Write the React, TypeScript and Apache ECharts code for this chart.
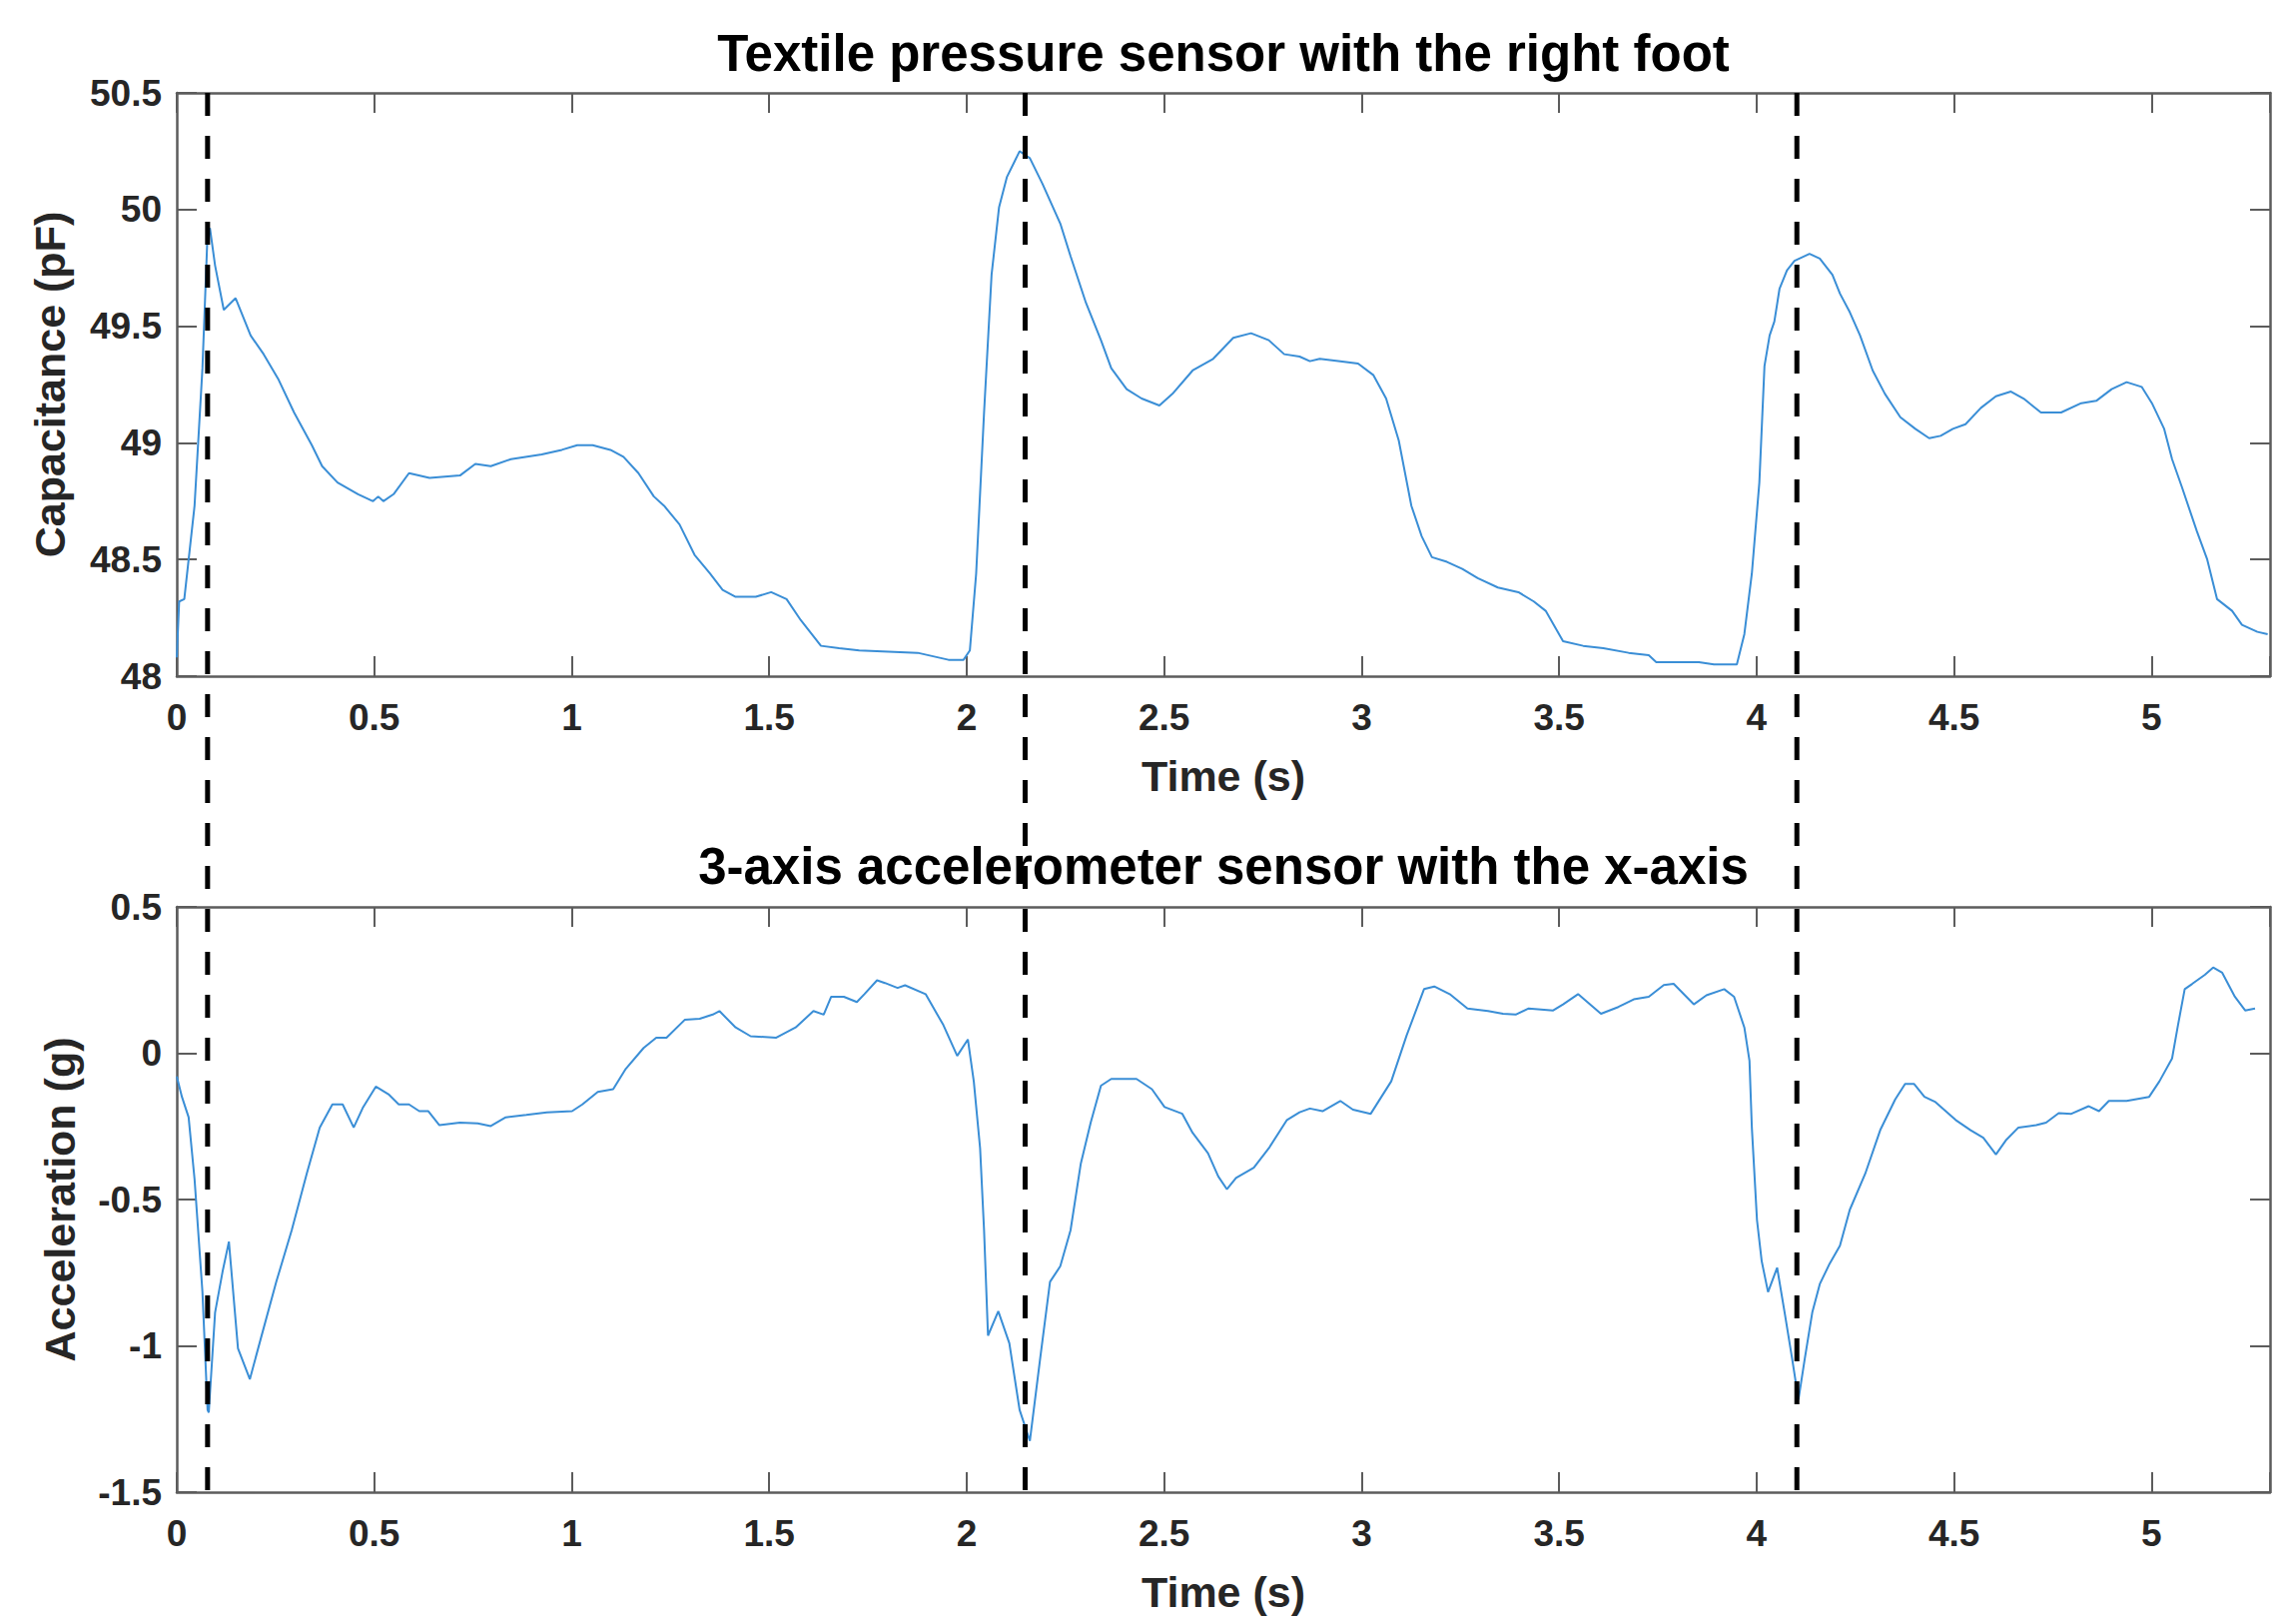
import React, { useEffect, useRef } from 'react';
import * as echarts from 'echarts';

// ---------------- data ----------------
const capTime = [
  0, 0.006, 0.019, 0.045, 0.065, 0.078, 0.084, 0.097, 0.119, 0.149, 0.187, 0.22, 0.258, 0.297, 0.342, 0.368,
  0.407, 0.459, 0.497, 0.51, 0.523, 0.549, 0.588, 0.64, 0.717, 0.756, 0.795, 0.846, 0.924, 0.975, 1.014, 1.053,
  1.098, 1.131, 1.169, 1.208, 1.234, 1.273, 1.311, 1.35, 1.382, 1.415, 1.466, 1.505, 1.544, 1.58, 1.631, 1.677,
  1.728, 1.876, 1.954, 1.992, 2.008, 2.024, 2.044, 2.063, 2.082, 2.102, 2.134, 2.16, 2.192, 2.237, 2.263, 2.302,
  2.34, 2.366, 2.405, 2.443, 2.488, 2.521, 2.572, 2.624, 2.675, 2.72, 2.765, 2.804, 2.843, 2.869, 2.894, 2.946,
  2.991, 3.03, 3.062, 3.094, 3.126, 3.152, 3.178, 3.216, 3.255, 3.294, 3.345, 3.397, 3.436, 3.466, 3.51, 3.561,
  3.612, 3.676, 3.727, 3.746, 3.854, 3.892, 3.95, 3.969, 3.988, 4.007, 4.02, 4.033, 4.045, 4.058, 4.077, 4.096,
  4.134, 4.16, 4.192, 4.211, 4.236, 4.262, 4.294, 4.325, 4.364, 4.402, 4.437, 4.466, 4.497, 4.529, 4.568, 4.606,
  4.644, 4.676, 4.72, 4.771, 4.822, 4.86, 4.899, 4.937, 4.975, 5.001, 5.032, 5.052, 5.077, 5.115, 5.141, 5.166,
  5.204, 5.229, 5.268, 5.294,
];
const capValue = [
  48.08, 48.32, 48.33, 48.73, 49.32, 49.9, 49.92, 49.76, 49.57, 49.62, 49.46, 49.38, 49.27, 49.13, 48.99, 48.9,
  48.83, 48.78, 48.75, 48.77, 48.75, 48.78, 48.87, 48.85, 48.86, 48.91, 48.9, 48.93, 48.95, 48.97, 48.99, 48.99,
  48.97, 48.94, 48.87, 48.77, 48.73, 48.65, 48.52, 48.44, 48.37, 48.34, 48.34, 48.36, 48.33, 48.24, 48.13, 48.12,
  48.11, 48.1, 48.07, 48.07, 48.11, 48.44, 49.13, 49.72, 50.01, 50.14, 50.25, 50.22, 50.11, 49.94, 49.8, 49.6,
  49.44, 49.32, 49.23, 49.19, 49.16, 49.21, 49.31, 49.36, 49.45, 49.47, 49.44, 49.38, 49.37, 49.35, 49.36, 49.35,
  49.34, 49.29, 49.19, 49.01, 48.73, 48.6, 48.51, 48.49, 48.46, 48.42, 48.38, 48.36, 48.32, 48.28, 48.15, 48.13,
  48.12, 48.1, 48.09, 48.06, 48.06, 48.05, 48.05, 48.18, 48.44, 48.83, 49.33, 49.46, 49.52, 49.66, 49.74, 49.78,
  49.81, 49.79, 49.72, 49.64, 49.56, 49.46, 49.31, 49.21, 49.11, 49.06, 49.02, 49.03, 49.06, 49.08, 49.15, 49.2,
  49.22, 49.19, 49.13, 49.13, 49.17, 49.18, 49.23, 49.26, 49.24, 49.17, 49.06, 48.93, 48.81, 48.62, 48.5, 48.33,
  48.28, 48.22, 48.19, 48.18,
];

const accTime = [
  0, 0.013, 0.03, 0.045, 0.065, 0.078, 0.081, 0.097, 0.116, 0.132, 0.155, 0.185, 0.213, 0.252, 0.291, 0.329,
  0.362, 0.394, 0.42, 0.448, 0.472, 0.504, 0.536, 0.562, 0.588, 0.614, 0.637, 0.665, 0.717, 0.762, 0.795, 0.833,
  0.885, 0.937, 1.001, 1.027, 1.066, 1.105, 1.137, 1.182, 1.214, 1.24, 1.286, 1.324, 1.357, 1.374, 1.415, 1.453,
  1.518, 1.567, 1.612, 1.638, 1.657, 1.689, 1.722, 1.741, 1.773, 1.793, 1.825, 1.844, 1.896, 1.941, 1.976, 2.003,
  2.018, 2.034, 2.044, 2.054, 2.08, 2.108, 2.134, 2.16, 2.186, 2.211, 2.237, 2.263, 2.289, 2.314, 2.34, 2.366,
  2.43, 2.469, 2.501, 2.546, 2.572, 2.611, 2.637, 2.659, 2.682, 2.727, 2.765, 2.811, 2.843, 2.869, 2.901, 2.946,
  2.978, 3.023, 3.075, 3.114, 3.158, 3.184, 3.223, 3.268, 3.32, 3.358, 3.39, 3.423, 3.485, 3.51, 3.548, 3.606,
  3.65, 3.689, 3.727, 3.765, 3.79, 3.841, 3.873, 3.918, 3.943, 3.969, 3.982, 3.988, 4.001, 4.013, 4.029, 4.052,
  4.071, 4.09, 4.106, 4.122, 4.141, 4.16, 4.185, 4.211, 4.236, 4.275, 4.313, 4.351, 4.376, 4.399, 4.425, 4.453,
  4.504, 4.542, 4.574, 4.606, 4.631, 4.663, 4.708, 4.733, 4.765, 4.797, 4.841, 4.867, 4.892, 4.937, 4.994, 5.02,
  5.052, 5.067, 5.084, 5.103, 5.135, 5.156, 5.179, 5.211, 5.237, 5.262,
];
const accValue = [
  -0.079, -0.149, -0.219, -0.43, -0.816, -1.219, -1.228, -0.886, -0.746, -0.644, -1.009, -1.114, -0.974, -0.781, -0.605, -0.412,
  -0.254, -0.175, -0.175, -0.254, -0.184, -0.114, -0.14, -0.175, -0.175, -0.198, -0.198, -0.246, -0.237, -0.24, -0.249, -0.219,
  -0.211, -0.202, -0.198, -0.175, -0.132, -0.123, -0.053, 0.018, 0.053, 0.053, 0.114, 0.118, 0.132, 0.144, 0.088, 0.058,
  0.053, 0.088, 0.144, 0.132, 0.193, 0.193, 0.175, 0.202, 0.249, 0.24, 0.223, 0.232, 0.202, 0.096, -0.009, 0.047,
  -0.096, -0.325, -0.605, -0.965, -0.882, -0.991, -1.219, -1.325, -1.044, -0.781, -0.728, -0.605, -0.377, -0.237, -0.111, -0.088,
  -0.088, -0.123, -0.184, -0.207, -0.272, -0.342, -0.421, -0.465, -0.426, -0.391, -0.325, -0.228, -0.202, -0.189, -0.198, -0.163,
  -0.193, -0.207, -0.096, 0.061, 0.219, 0.228, 0.202, 0.153, 0.144, 0.135, 0.132, 0.153, 0.146, 0.167, 0.202, 0.135,
  0.158, 0.184, 0.193, 0.233, 0.237, 0.167, 0.198, 0.219, 0.193, 0.088, -0.026, -0.254, -0.57, -0.711, -0.816, -0.733,
  -0.886, -1.044, -1.184, -1.044, -0.886, -0.789, -0.719, -0.658, -0.535, -0.412, -0.263, -0.158, -0.105, -0.105, -0.149, -0.167,
  -0.228, -0.263, -0.289, -0.346, -0.298, -0.254, -0.246, -0.237, -0.205, -0.207, -0.181, -0.198, -0.163, -0.163, -0.149, -0.096,
  -0.018, 0.096, 0.219, 0.237, 0.268, 0.293, 0.275, 0.193, 0.146, 0.153,
];

// time instants marked by the dashed vertical lines
const stepTimes = [0.078, 2.148, 4.102];

// axis ranges / tick steps
const timeRange = [0, 5.3];
const timeStep = 0.5;
const capRange = [48, 50.5];
const capStep = 0.5;
const accRange = [-1.5, 0.5];
const accStep = 0.5;

const titles = [
  'Textile pressure sensor with the right foot',
  '3-axis accelerometer sensor with the x-axis',
];
const xName = 'Time (s)';
const yNames = ['Capacitance (pF)', 'Acceleration (g)'];

// ---------------- styling ----------------
const W = 2291;
const H = 1626;
const FONT = "'Liberation Sans', Arial, Helvetica, sans-serif";
const AXIS_COLOR = '#5c5c5c';
const LABEL_COLOR = '#262626';
const LINE_COLOR = '#3a8ed6';
const GRID_LEFT = 177;
const GRID_RIGHT = 18;
const grids = [
  { left: GRID_LEFT, right: GRID_RIGHT, top: 93, height: 584 },
  { left: GRID_LEFT, right: GRID_RIGHT, top: 908, height: 586 },
];
const titleTops = [28, 842];
const yNameGaps = [106, 96];

const isStep = (v: number, step: number) => Math.abs(v / step - Math.round(v / step)) < 1e-6;

function xAxisDef(gridIndex: number, position: 'top' | 'bottom') {
  const main = position === 'bottom';
  return {
    type: 'value',
    gridIndex,
    position,
    min: timeRange[0],
    max: timeRange[1],
    interval: timeStep,
    axisLine: { show: true, onZero: false, lineStyle: { color: AXIS_COLOR, width: 2.5 } },
    axisTick: { show: true, inside: true, length: 20, lineStyle: { color: AXIS_COLOR, width: 2 } },
    splitLine: { show: false },
    axisLabel: main
      ? {
          show: true,
          margin: 23,
          color: LABEL_COLOR,
          fontSize: 37,
          fontWeight: 'bold',
          fontFamily: FONT,
          formatter: (v: number) => (isStep(v, timeStep) ? String(v) : ''),
        }
      : { show: false },
    name: main ? xName : '',
    nameLocation: 'middle',
    nameGap: 78,
    nameTextStyle: { color: LABEL_COLOR, fontSize: 43, fontWeight: 'bold', fontFamily: FONT },
  };
}

function yAxisDef(gridIndex: number, position: 'left' | 'right', range: number[], step: number, name: string, gap: number) {
  const main = position === 'left';
  return {
    type: 'value',
    gridIndex,
    position,
    min: range[0],
    max: range[1],
    interval: step,
    axisLine: { show: true, onZero: false, lineStyle: { color: AXIS_COLOR, width: 2.5 } },
    axisTick: { show: true, inside: true, length: 20, lineStyle: { color: AXIS_COLOR, width: 2 } },
    splitLine: { show: false },
    axisLabel: main
      ? { show: true, margin: 15, color: LABEL_COLOR, fontSize: 37, fontWeight: 'bold', fontFamily: FONT }
      : { show: false },
    name: main ? name : '',
    nameLocation: 'middle',
    nameGap: gap,
    nameTextStyle: { color: LABEL_COLOR, fontSize: 43, fontWeight: 'bold', fontFamily: FONT },
  };
}

export default function App() {
  const ref = useRef<HTMLDivElement>(null);

  useEffect(() => {
    if (!ref.current) return;
    const chart = echarts.init(ref.current, null, { renderer: 'svg', width: W, height: H });
    const plotCenter = GRID_LEFT + (W - GRID_LEFT - GRID_RIGHT) / 2;

    const option: any = {
      animation: false,
      backgroundColor: '#ffffff',
      title: titles.map((t, i) => ({
        text: t,
        left: plotCenter,
        top: titleTops[i],
        textAlign: 'center',
        padding: 0,
        textStyle: { color: '#000000', fontSize: 51, fontWeight: 'bold', fontFamily: FONT },
      })),
      grid: grids.map((g) => ({ ...g, containLabel: false })),
      xAxis: [xAxisDef(0, 'bottom'), xAxisDef(0, 'top'), xAxisDef(1, 'bottom'), xAxisDef(1, 'top')],
      yAxis: [
        yAxisDef(0, 'left', capRange, capStep, yNames[0], yNameGaps[0]),
        yAxisDef(0, 'right', capRange, capStep, '', 0),
        yAxisDef(1, 'left', accRange, accStep, yNames[1], yNameGaps[1]),
        yAxisDef(1, 'right', accRange, accStep, '', 0),
      ],
      series: [
        {
          type: 'line',
          xAxisIndex: 0,
          yAxisIndex: 0,
          showSymbol: false,
          symbol: 'none',
          lineStyle: { color: LINE_COLOR, width: 2 },
          data: capTime.map((t, i) => [t, capValue[i]]),
        },
        {
          type: 'line',
          xAxisIndex: 2,
          yAxisIndex: 2,
          showSymbol: false,
          symbol: 'none',
          lineStyle: { color: LINE_COLOR, width: 2 },
          data: accTime.map((t, i) => [t, accValue[i]]),
        },
      ],
    };
    chart.setOption(option);

    const yTop = chart.convertToPixel({ yAxisIndex: 0 }, capRange[1]) as number;
    const yBottom = chart.convertToPixel({ yAxisIndex: 2 }, accRange[0]) as number;
    const lines = stepTimes.map((t) => {
      const x = chart.convertToPixel({ xAxisIndex: 0 }, t) as number;
      return {
        type: 'line',
        silent: true,
        z: 100,
        shape: { x1: x, y1: yTop, x2: x, y2: yBottom },
        style: { stroke: '#000000', lineWidth: 5, lineDash: [23, 20] },
      };
    });
    chart.setOption({ graphic: lines });

    return () => chart.dispose();
  }, []);

  return (
    <div
      ref={ref}
      style={{ position: 'fixed', left: 0, top: 0, width: W, height: H, background: '#ffffff' }}
    />
  );
}
